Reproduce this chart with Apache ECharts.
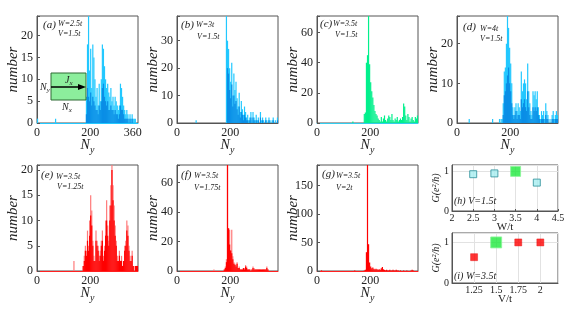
<!DOCTYPE html>
<html><head><meta charset="utf-8">
<script src="https://cdn.jsdelivr.net/npm/echarts@6/dist/echarts.min.js"></script>
<style>html,body{margin:0;padding:0;background:#fff}#c{width:581px;height:312px}</style>
</head><body><div id="c"></div>
<script>
// ---- data ----
const nyBins = [170,174,178,182,186,190,194,198,202,206,210,214,218,222,226,230,234,238,242,246,250,254,258,262,266,270,274,278,282,286,290,294,298,302,306,310,314,318,322,326,330,334,338,342,346,350,354,358,362,366,370,374,378];

const countsA = [0,0,0,0,6,18,25,12,17,8, 18,15,10,6,8,4,9,5,10,18, 17,13,10,8,9,7,6,8,5,6, 4,6,5,4,3,4,9,8,6,4, 3,2,3,2,1,2,1,2,1,1, 1,0,0];
const countsAdark = [0,0,0,0,2,8,6,5,7,4, 6,5,4,3,3,2,4,3,5,8, 9,6,5,4,5,3,3,4,3,3, 2,3,2,2,1,2,4,3,3,2, 1,1,1,1,0,1,0,1,0,0, 0,0,0];
const sparseA = [[2,1],[70,1]];

const countsB = [0,0,0,0,39,30,27,20,15,22, 10,18,12,15,9,6,11,4,8,5, 3,6,4,2,3,1,2,4,1,4, 2,1,3,1,2,0,4,1,2,1, 0,2,1,0,2,1,0,1,2,0, 1,0,2];
const countsBdark = [0,0,0,0,0,20,18,12,9,14, 6,10,7,8,5,3,6,2,4,3, 1,3,2,1,1,0,1,2,0,2, 1,0,1,0,1,0,2,0,1,0, 0,1,0,0,1,0,0,0,1,0, 0,0,1];
const sparseB = [[72,1]];

const countsC = [0,0,6,7,40,45,71,39,27,21, 17,12,8,6,5,3,2,1,4,1, 3,5,2,1,3,5,4,2,6,2, 1,3,2,4,1,2,3,2,4,13, 11,5,2,6,4,1,3,4,2,1, 4,3,5];
const sparseC = [[135,1]];

const countsD = [1,5,13,14,20,27,24,19,15,10, 4,2,4,5,3,5,4,3,13,8, 10,11,10,6,15,8,5,3,2,8, 7,8,6,8,4,2,1,3,2,3, 1,5,3,2,0,1,0,2,3,1, 2,3,2];
const countsDdark = [0,2,7,8,10,12,14,10,8,5, 2,1,2,3,1,2,2,1,6,4, 5,6,4,3,8,4,2,1,1,4, 3,4,3,4,2,1,0,1,1,1, 0,2,1,1,0,0,0,1,1,0, 1,1,1];
const sparseD = [[46,1],[134,1],[160,1],[166,1]];

const countsE = [0,1,3,5,4,8,5,10,15,12, 6,3,2,8,6,5,3,4,6,8, 3,5,10,14,9,6,13,17,21,17, 13,9,6,3,2,4,2,3,1,2, 5,6,10,9,5,3,2,4,1,0, 1,1,1];
const countsEdark = [0,1,2,4,3,6,4,7,11,9, 5,2,2,6,5,4,2,3,5,6, 2,4,7,10,7,5,10,13,20,14, 10,7,5,2,2,3,2,2,1,2, 4,5,8,7,4,2,2,3,1,0, 1,1,1];
const sparseE = [[139,2]];

const countsF = [0,0,1,3,8,72,29,28,14,28, 10,6,5,4,6,2,3,1,1,1, 2,2,4,3,1,1,1,0,1,3, 2,1,1,1,1,1,1,1,1,1, 1,1,3,1,0,0,0,0,0,0, 0,0,0];
const countsFdark = [0,0,1,2,6,72,29,18,14,12, 8,5,4,3,5,2,2,1,1,1, 2,1,3,2,1,1,1,0,1,2, 1,1,1,1,1,1,1,1,1,1, 1,1,2,1,0,0,0,0,0,0, 0,0,0];
const sparseF = [[139,1]];

const countsG = [0,0,1,2,33,186,47,15,8,5, 6,4,3,4,3,2,3,2,5,7, 3,2,1,2,1,1,2,1,1,2, 1,1,2,1,1,0,1,0,0,1, 0,0,1,0,0,0,1,2,1,0, 0,0,0];
const sparseG = [[17,1],[142,1]];

const wValues = [2.5, 3, 3.5, 4];
const gW = [0.92, 0.94, 0.99, 0.71];
const wHighlight = 2;
const vValues = [1.25, 1.5, 1.75, 2];
const gV = [0.63, 0.99, 0.99, 0.99];
const vHighlight = 1;

// ---- layout / styles ----
const SERIF = "'Liberation Serif','DejaVu Serif',serif";
const panels = [
  {key:'a', left:37,  top:16,  h:107, ymax:24.5, yint:5,  xint:40, xlabels:[0,200,360], light:countsA, dark:countsAdark, sparse:sparseA, lc:'#22c8ff', dc:'#0a8ee6', base:'#22c8ff'},
  {key:'b', left:177, top:16,  h:107, ymax:39,   yint:10, xint:200, xlabels:[0,200], light:countsB, dark:countsBdark, sparse:sparseB, lc:'#22c8ff', dc:'#0a8ee6', base:'#555'},
  {key:'c', left:317, top:16,  h:107, ymax:71,   yint:20, xint:200, xlabels:[0,200], light:countsC, dark:null, sparse:sparseC, lc:'#00f08c', dc:null, base:'#33ccee'},
  {key:'d', left:457, top:16,  h:107, ymax:27,   yint:10, xint:200, xlabels:[0,200], light:countsD, dark:countsDdark, sparse:sparseD, lc:'#22c8ff', dc:'#0a8ee6', base:'#555'},
  {key:'e', left:37,  top:165, h:106, ymax:21,   yint:5,  xint:200, xlabels:[0,200], light:countsE, dark:countsEdark, sparse:sparseE, lc:'#ff7a7a', dc:'#ff0000', base:'#ff2020'},
  {key:'f', left:177, top:165, h:106, ymax:72,   yint:20, xint:200, xlabels:[0,200], light:countsF, dark:countsFdark, sparse:sparseF, lc:'#ff7a7a', dc:'#ff0000', base:'#ff2020'},
  {key:'g', left:317, top:165, h:106, ymax:186,  yint:50, xint:200, xlabels:[0,200], light:countsG, dark:null, sparse:sparseG, lc:'#ff0000', dc:null, base:'#ff2020'}
];

const grids = [], xAxes = [], yAxes = [], series = [];
const labelStyle = {fontFamily: SERIF, fontSize: 12, color: '#222'};

function toPairs(counts, sparse) {
  const out = sparse ? sparse.map(p => p.slice()) : [];
  counts.forEach((c, i) => { if (c > 0) out.push([nyBins[i], c]); });
  return out;
}

panels.forEach((p, i) => {
  grids.push({left: p.left, top: p.top, width: 101, height: p.h, show: true, borderColor: '#555', borderWidth: 1, backgroundColor: 'transparent'});
  xAxes.push({
    type: 'value', gridIndex: i, min: 0, max: 380, interval: p.xint,
    axisLine: {show: true, lineStyle: {color: p.base, width: 1}},
    axisTick: {show: false}, splitLine: {show: false},
    axisLabel: Object.assign({margin: 4, formatter: v => p.xlabels.includes(v) ? String(v) : ''}, labelStyle),
    name: '{n|N}{s|y}', nameLocation: 'middle', nameGap: 13, nameMoveOverlap: false,
    nameTextStyle: {rich: {
      n: {fontFamily: SERIF, fontStyle: 'italic', fontSize: 14, color: '#222'},
      s: {fontFamily: SERIF, fontStyle: 'italic', fontSize: 10, color: '#222', padding: [9, 0, 0, 0]}
    }}
  });
  yAxes.push({
    type: 'value', gridIndex: i, min: 0, max: p.ymax, interval: p.yint,
    axisLine: {show: true, lineStyle: {color: '#555'}},
    axisTick: {show: true, inside: true, length: 3, lineStyle: {color: '#555'}},
    splitLine: {show: false},
    axisLabel: Object.assign({margin: 4, formatter: v => (v % p.yint === 0) ? String(v) : ''}, labelStyle),
    name: 'number', nameLocation: 'middle', nameGap: 16, nameMoveOverlap: false,
    nameTextStyle: {fontFamily: SERIF, fontStyle: 'italic', fontSize: 15, color: '#222'}
  });
  series.push({
    type: 'bar', xAxisIndex: i, yAxisIndex: i, barWidth: 1.2, barGap: '-100%',
    data: toPairs(p.light, p.sparse), itemStyle: {color: p.lc}, silent: true, animation: false
  });
  if (p.dark) {
    series.push({
      type: 'bar', xAxisIndex: i, yAxisIndex: i, barWidth: 1.2, barGap: '-100%',
      data: toPairs(p.dark, null), itemStyle: {color: p.dc}, silent: true, animation: false
    });
  }
});

// (h) and (i)
const smallLabel = {fontFamily: SERIF, fontSize: 10, color: '#222'};
const gName = {fontFamily: SERIF, fontStyle: 'italic', fontSize: 10, color: '#222'};
const hIdx = grids.length;
grids.push({left: 452, top: 165, width: 106, height: 46, show: true, borderColor: '#555', borderWidth: 1});
xAxes.push({type: 'value', gridIndex: hIdx, min: 2, max: 4.5, interval: 0.5,
  axisLine: {lineStyle: {color: '#555'}}, axisTick: {show: true, inside: true, length: 2},
  splitLine: {show: true, lineStyle: {color: '#e2e2e2'}},
  axisLabel: Object.assign({margin: 2}, smallLabel),
  name: 'W/t', nameLocation: 'middle', nameGap: 11, nameMoveOverlap: false,
  nameTextStyle: {fontFamily: SERIF, fontSize: 11, color: '#222'}});
yAxes.push({type: 'value', gridIndex: hIdx, min: 0, max: 1.15, interval: 1,
  axisLine: {lineStyle: {color: '#555'}}, axisTick: {show: false},
  splitLine: {show: true, lineStyle: {color: '#e2e2e2'}},
  axisLabel: Object.assign({margin: 3, formatter: v => (v === 0 || v === 1) ? String(v) : ''}, smallLabel),
  name: 'G(e²/h)', nameLocation: 'middle', nameGap: 11, nameMoveOverlap: false, nameTextStyle: gName});
series.push({type: 'scatter', xAxisIndex: hIdx, yAxisIndex: hIdx, animation: false,
  data: wValues.map((w, k) => ({
    value: [w, gW[k]],
    symbol: 'rect',
    symbolSize: k === wHighlight ? 10 : 7,
    itemStyle: k === wHighlight ? {color: '#1ee83c', borderColor: '#8cf59a', borderWidth: 1} : {color: '#a6eef0', borderColor: '#2a8f99', borderWidth: 1}
  }))});

const iIdx = grids.length;
grids.push({left: 452, top: 233, width: 106, height: 50, show: true, borderColor: '#555', borderWidth: 1});
xAxes.push({type: 'value', gridIndex: iIdx, min: 1, max: 2.2, interval: 0.25,
  axisLine: {lineStyle: {color: '#555'}}, axisTick: {show: false},
  splitLine: {show: true, lineStyle: {color: '#e2e2e2'}},
  axisLabel: Object.assign({margin: 2, formatter: v => vValues.includes(v) ? String(v) : ''}, smallLabel),
  name: 'V/t', nameLocation: 'middle', nameGap: 11, nameMoveOverlap: false,
  nameTextStyle: {fontFamily: SERIF, fontSize: 11, color: '#222'}});
yAxes.push({type: 'value', gridIndex: iIdx, min: 0, max: 1.22, interval: 1,
  axisLine: {lineStyle: {color: '#555'}}, axisTick: {show: false},
  splitLine: {show: true, lineStyle: {color: '#e2e2e2'}},
  axisLabel: Object.assign({margin: 3, formatter: v => (v === 0 || v === 1) ? String(v) : ''}, smallLabel),
  name: 'G(e²/h)', nameLocation: 'middle', nameGap: 11, nameMoveOverlap: false, nameTextStyle: gName});
series.push({type: 'scatter', xAxisIndex: iIdx, yAxisIndex: iIdx, animation: false,
  data: vValues.map((v, k) => ({
    value: [v, gV[k]],
    symbol: 'rect',
    symbolSize: k === vHighlight ? 11 : 7,
    itemStyle: k === vHighlight ? {color: '#1ee83c', borderColor: '#8cf59a', borderWidth: 1} : {color: '#ff0000', borderColor: '#e00000', borderWidth: 0.5}
  }))});

// annotations
const fLab = "italic 11px " + SERIF;
const fSm = "italic 8px " + SERIF;
function tx(x, y, t, font) { return {type: 'text', x: x, y: y, z: 100, style: {text: t, font: font, fill: '#222', textVerticalAlign: 'middle'}}; }
const annotations = [
  ['(a)', 'W=2.5t', 'V=1.5t', 43, 25, 58, 24, 58, 34],
  ['(b)', 'W=3t', 'V=1.5t', 181, 25, 196, 25, 197, 37],
  ['(c)', 'W=3.5t', 'V=1.5t', 320, 24, 333, 24, 335, 35],
  ['(d)', 'W=4t', 'V=1.5t', 463, 27, 480, 29, 480, 39],
  ['(e)', 'W=3.5t', 'V=1.25t', 41, 175, 56, 177, 57, 187],
  ['(f)', 'W=3.5t', 'V=1.75t', 181, 175, 194, 176, 194, 188],
  ['(g)', 'W=3.5t', 'V=2t', 322, 174, 336, 176, 336, 188]
];
const graphics = [];
annotations.forEach(a => {
  graphics.push(tx(a[3], a[4], a[0], fLab));
  graphics.push(tx(a[5], a[6], a[1], fSm));
  graphics.push(tx(a[7], a[8], a[2], fSm));
});
graphics.push(tx(454, 201, '(h) V=1.5t', "italic 10px " + SERIF));
graphics.push(tx(454, 276, '(i) W=3.5t', "italic 10px " + SERIF));
// inset schematic in (a)
graphics.push({type: 'rect', z: 90, shape: {x: 51, y: 73, width: 35, height: 27}, style: {fill: '#8cee9c', stroke: '#2e6b35', lineWidth: 1}});
graphics.push({type: 'line', z: 91, shape: {x1: 51, y1: 87, x2: 80, y2: 87}, style: {stroke: '#000', lineWidth: 1.5}});
graphics.push({type: 'polygon', z: 91, shape: {points: [[86, 87], [78, 84], [78, 90]]}, style: {fill: '#000'}});
const richSub = {a: {fontFamily: SERIF, fontStyle: 'italic', fontSize: 10, fill: '#222'}, b: {fontFamily: SERIF, fontStyle: 'italic', fontSize: 7, fill: '#222', padding: [6, 0, 0, 0]}};
graphics.push({type: 'text', z: 92, x: 65, y: 80, style: {text: '{a|J}{b|x}', textVerticalAlign: 'middle', rich: richSub}});
graphics.push({type: 'text', z: 92, x: 40, y: 87, style: {text: '{a|N}{b|y}', textVerticalAlign: 'middle', rich: richSub}});
graphics.push({type: 'text', z: 92, x: 62, y: 107, style: {text: '{a|N}{b|x}', textVerticalAlign: 'middle', rich: richSub}});

const chart = echarts.init(document.getElementById('c'), null, {renderer: 'canvas'});
chart.setOption({
  animation: false,
  grid: grids, xAxis: xAxes, yAxis: yAxes, series: series, graphic: graphics
});
</script></body></html>
